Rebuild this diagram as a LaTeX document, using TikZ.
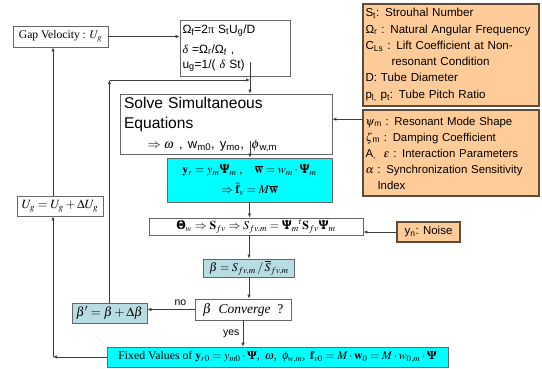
\documentclass[tikz,border=0pt]{standalone}
\usepackage{amsmath}
\usepackage{mathptmx}
\usepackage{bm}
\usepackage[no-math]{fontspec}
\setmainfont{Liberation Serif}
\setsansfont{Liberation Sans}
\usetikzlibrary{arrows.meta}

\definecolor{paleorange}{RGB}{255,204,153}
\definecolor{orangeedge}{RGB}{95,75,55}
\definecolor{brightcyan}{RGB}{0,255,255}
\definecolor{paleteal}{RGB}{183,221,226}
\definecolor{linegray}{RGB}{60,60,60}

\tikzset{
  box/.style={draw=black!60, line width=0.7pt, inner sep=2pt},
  notebox/.style={draw=orangeedge, line width=1.6pt, fill=paleorange, inner sep=2.5pt,
    font=\sffamily\fontsize{11.6}{16.3}\selectfont, text width=171pt, align=left},
  flow/.style={draw=linegray, line width=0.6pt, -{Latex[length=4pt,width=3.2pt]}},
  link/.style={draw=linegray, line width=0.6pt},
}

\begin{document}
\begin{tikzpicture}[x=1pt,y=-1pt]
  \useasboundingbox (0,0) rectangle (542,368);

  % Input and parameter boxes
  \node[box, minimum width=95pt, minimum height=21pt, font=\fontsize{11.6}{13}\selectfont] (gap) at (60.5,36.5) {Gap Velocity : $U_g$};
  \node[box, minimum width=110pt, minimum height=56pt, text width=105pt, align=left,
        font=\sffamily\fontsize{12}{15}\selectfont] (omega) at (235,48)
        {Ω\textsubscript{f}=2{\rmfamily π} S\textsubscript{t}U\textsubscript{g}/D\\[5pt]
         {\rmfamily\itshape δ} =Ω\textsubscript{r}/Ω\textsubscript{f} ,\\
         u\textsubscript{g}=1/( {\rmfamily\itshape δ} St)};
  \node[notebox, minimum height=102pt] (consts) at (451,55)
        {S\textsubscript{t}: Strouhal Number\\
         Ω\textsubscript{r} : Natural Angular Frequency\\
         C\textsubscript{Ls} : Lift Coefficient at Non-\\
         \hspace*{26pt}resonant Condition\\
         D: Tube Diameter\\
         p\textsubscript{l,} p\textsubscript{t}: Tube Pitch Ratio};
  \node[notebox, minimum height=86pt, font=\sffamily\fontsize{11.4}{16}\selectfont] (modal) at (451,153)
        {$\psi$\textsubscript{m} : Resonant Mode Shape\\
         $\zeta$\textsubscript{m} : Damping Coefficient\\
         A\textsubscript{,} \ $\varepsilon$ : Interaction Parameters\\
         $\alpha$ : Synchronization Sensitivity\\
         \hspace*{12pt}Index};

  % Main loop
  \node[box, minimum width=212pt, minimum height=60pt, text width=204pt, align=left,
        font=\sffamily\fontsize{15.6}{20}\selectfont] (solve) at (226,124)
        {Solve Simultaneous\\
         Equations\\
         {\fontsize{13}{20}\selectfont\hspace*{24pt}$\Rightarrow\omega$ , w\textsubscript{m0}, y\textsubscript{mo}, \,$\phi$\textsubscript{w,m}}};
  \node[box, fill=brightcyan, minimum width=165pt, minimum height=44pt, align=center,
        font=\fontsize{12}{20}\selectfont] (eq) at (249.5,180)
        {$\mathbf{y}_r = y_m\bm{\Psi}_m$ ,\quad $\overline{\mathbf{w}} = w_m\cdot\bm{\Psi}_m$\\
         $\Rightarrow \bar{\mathbf{f}}_v = M\overline{\mathbf{w}}$};
  \node[box, minimum width=214pt, minimum height=17pt, font=\fontsize{12}{14}\selectfont] (theta) at (256,226.5)
        {$\bm{\Theta}_w \Rightarrow \mathbf{S}_{fv} \Rightarrow S_{fv,m} = \bm{\Psi}_m{}^t\mathbf{S}_{fv}\bm{\Psi}_m$};
  \node[box, draw=orangeedge, line width=1.4pt, fill=paleorange, minimum width=63pt, minimum height=20pt,
        font=\sffamily\fontsize{11.5}{13}\selectfont] (noise) at (428.5,232) {y\textsubscript{n}: Noise};
  \node[box, fill=paleteal, minimum width=91pt, minimum height=16pt, font=\fontsize{12}{14}\selectfont] (beta) at (249,268)
        {$\beta = S_{fv,m} \,/\, \overline{S}_{fv,m}$};
  \node[box, minimum width=96pt, minimum height=21pt, font=\fontsize{13.5}{15}\selectfont] (conv) at (243,309.5)
        {$\beta$ \ \textit{Converge} \ ?};
  \node[box, fill=paleteal, minimum width=75pt, minimum height=20pt, font=\fontsize{13}{14}\selectfont] (betap) at (109.5,313)
        {$\beta' = \beta + \Delta\beta$};
  \node[box, fill=brightcyan, minimum width=341pt, minimum height=20pt, font=\fontsize{11.8}{13}\selectfont] (fixed) at (277.5,357)
        {Fixed Values of $\mathbf{y}_{r0} = y_{m0}\cdot\bm{\Psi}$,\, $\omega$,\, $\phi_{w,m}$,\, $\mathbf{f}_{v0} = M\cdot\mathbf{w}_0 = M\cdot w_{0,m}\cdot\bm{\Psi}$};
  \node[box, minimum width=86pt, minimum height=20pt, font=\fontsize{12.6}{14}\selectfont] (ugbox) at (60,206)
        {$U_g = U_g + \Delta U_g$};

  % Turning points
  \coordinate (omegaout) at (250,62);
  \coordinate (solveout) at (250,141);
  \coordinate (loopcorner) at (109.5,80);
  \coordinate (back) at (53,357);

  % Connectors
  \draw[flow] (gap.east) -- (gap.east -| omega.west);
  \draw[flow] (omegaout) -- (omegaout |- solve.north);
  \draw[flow] (betap.north) -- (loopcorner);
  \draw[flow] (loopcorner) -- (loopcorner -| omegaout);
  \draw[flow] ([yshift=-10pt]modal.north west) -- ([yshift=-10pt]modal.north west -| solve.east);
  \draw[flow] (solveout) -- (solveout |- eq.north);
  \draw[flow] (eq.south) -- (eq.south |- theta.north);
  \draw[flow] (noise.west) -- (noise.west -| theta.east);
  \draw[flow] (beta.north |- theta.south) -- (beta.north);
  \draw[flow] (beta.south) -- (beta.south |- conv.north);
  \draw[flow] (conv.west) -- node[pos=0.3, above, font=\sffamily\fontsize{10.5}{12}\selectfont] {no} (conv.west -| betap.east);
  \draw[flow] (conv.south) -- node[left, font=\sffamily\fontsize{10.5}{12}\selectfont] {yes} (conv.south |- fixed.north);
  \draw[flow] (fixed.west) -- (back);
  \draw[flow] (back) -- (back |- ugbox.south);
  \draw[flow] (back |- ugbox.north) -- (back |- gap.south);
\end{tikzpicture}
\end{document}
